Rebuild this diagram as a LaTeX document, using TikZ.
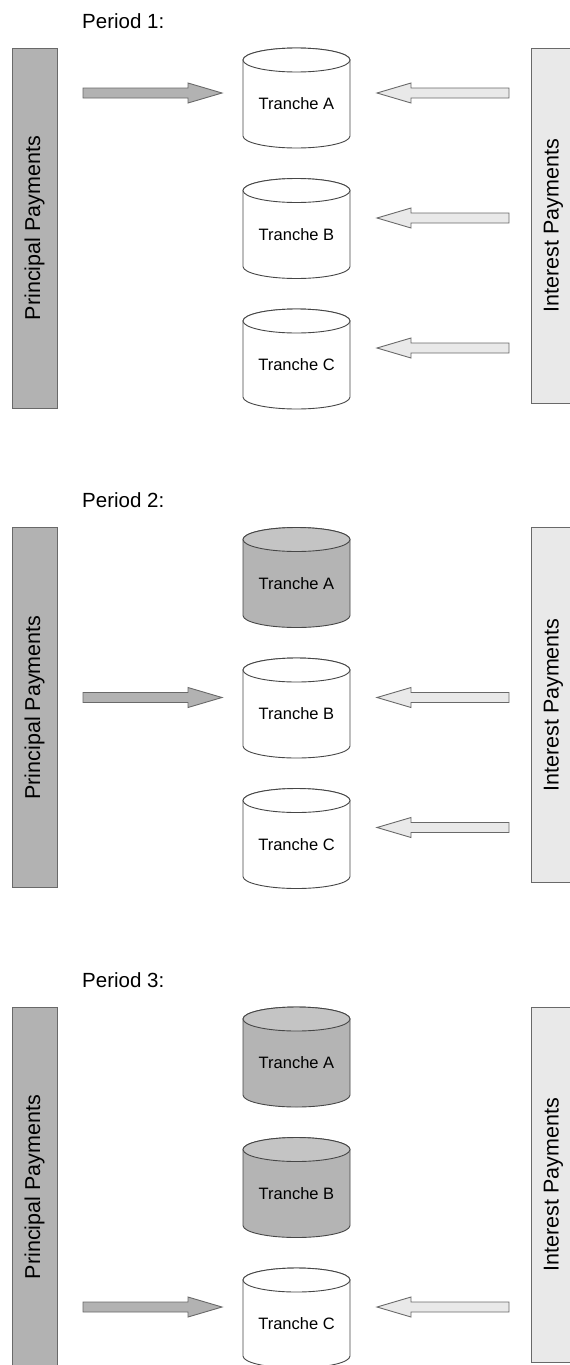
\documentclass[tikz,border=0pt]{standalone}
\usepackage{fontspec}
\setmainfont{Liberation Sans}
\usetikzlibrary{calc}
\definecolor{barDark}{RGB}{178,178,178}
\definecolor{barLight}{RGB}{233,233,233}
\definecolor{edgeGray}{RGB}{105,105,105}
\definecolor{tankTop}{RGB}{196,196,196}
\definecolor{tankBody}{RGB}{180,180,180}
\definecolor{tankEdge}{RGB}{70,70,70}
\tikzset{
  period/.style={anchor=base west,inner sep=0pt,font=\fontsize{20.5}{24}\selectfont},
  paybar/.style={draw=edgeGray,line width=1pt,rotate=90,minimum height=45pt,inner sep=0pt,font=\fontsize{21.5}{25}\selectfont},
  tranche/.style={inner sep=0pt,font=\fontsize{16.5}{19}\selectfont},
  tank/.style={draw=tankEdge,line width=0.9pt},
  parrow/.style={draw=edgeGray,fill=barDark,line width=0.9pt},
  iarrow/.style={draw=edgeGray,fill=barLight,line width=0.9pt}
}
% cylinder: centre x, top y, body fill, lid fill
\newcommand{\drawtank}[4]{%
  \filldraw[tank,fill=#3] (#1-53.5,#2+12) -- (#1-53.5,#2+88)
    arc[start angle=180,end angle=0,x radius=53.5,y radius=12]
    -- (#1+53.5,#2+12) arc[start angle=0,end angle=-180,x radius=53.5,y radius=12] -- cycle;
  \filldraw[tank,fill=#4] (#1,#2+12) ellipse[x radius=53.5,y radius=12];}
% fat arrow: style, from, to, head length (signed)
\newcommand{\blockarrow}[4]{%
  \filldraw[#1] ($(#2)+(0,-5)$) -- ($(#3)+({-(#4)},-5)$) -- ($(#3)+({-(#4)},-10)$)
    -- (#3) -- ($(#3)+({-(#4)},10)$) -- ($(#3)+({-(#4)},5)$) -- ($(#2)+(0,5)$) -- cycle;}

\begin{document}
\begin{tikzpicture}[x=1pt,y=-1pt]
\useasboundingbox (0,0) rectangle (570,1365);
\foreach \p/\hit in {1/0,2/1,3/2} {
  \pgfmathsetmacro\oy{479.5*(\p-1)}
  \begin{scope}[yshift=-\oy pt]
  \node[period] (lab\p) at (82,28) {Period \p:};
  \node[paybar,fill=barDark,minimum width=360pt] (pb\p) at (34.5,228) {Principal Payments};
  \node[paybar,fill=barLight,minimum width=355pt] (ib\p) at (553.5,225.5) {Interest Payments};
  \foreach \tr/\ty/\ay/\k in {A/48/93/0,B/178.5/218/1,C/309/348/2} {
    \ifnum\k<\hit\relax
      % paid off: shaded, no more interest
      \drawtank{296.5}{\ty}{tankBody}{tankTop}
    \else
      \drawtank{296.5}{\ty}{white}{white}
      \coordinate (is\tr\p) at (509,\ay);
      \coordinate (ie\tr\p) at (377,\ay);
      \blockarrow{iarrow}{is\tr\p}{ie\tr\p}{-34}
    \fi
    \node[tranche] (t\tr\p) at (296.5,\ty+56) {Tranche \tr};
    \ifnum\k=\hit\relax
      \coordinate (ps\p) at (83,\ay);
      \coordinate (pe\p) at (222,\ay);
      \blockarrow{parrow}{ps\p}{pe\p}{34}
    \fi
  }
  \end{scope}
}
\end{tikzpicture}
\end{document}
